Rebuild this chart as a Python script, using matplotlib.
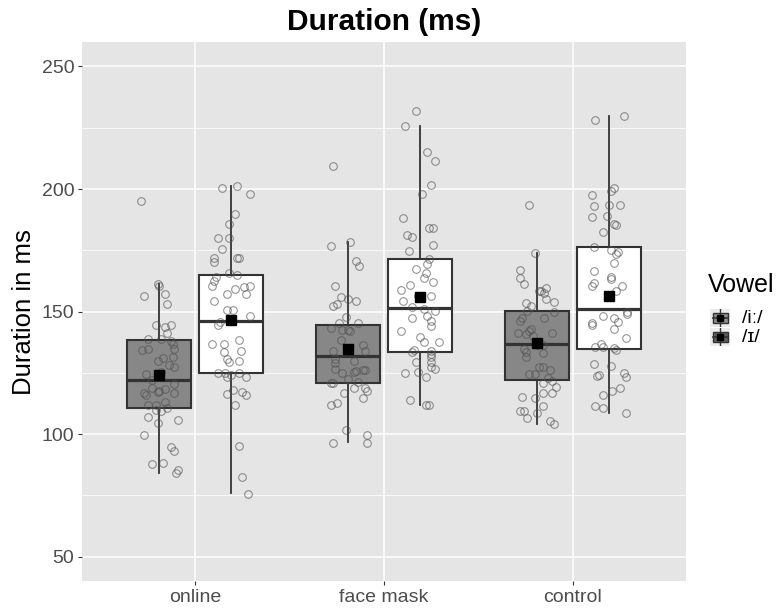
"""Boxplot of vowel duration by condition, with jittered tokens and means."""

import matplotlib
matplotlib.use("Agg")
import matplotlib.pyplot as plt
from matplotlib.patches import Rectangle
from matplotlib.lines import Line2D

plt.rcParams["font.family"] = ["Liberation Sans", "DejaVu Sans"]

conditions = ["online", "face mask", "control"]
vowels = ["/iː/", "/ɪ/"]

# box statistics per condition (left = dark box, right = white box)
dark_q1 = [110.7, 120.8, 122.2]
dark_med = [122.1, 131.8, 136.7]
dark_q3 = [138.6, 144.7, 150.1]
dark_lo = [84.0, 96.7, 104.2]
dark_hi = [161.3, 178.3, 173.8]
dark_mean = [124.3, 134.6, 137.1]

white_q1 = [125.0, 133.7, 134.6]
white_med = [146.0, 151.5, 151.1]
white_q3 = [165.0, 171.4, 176.3]
white_lo = [75.8, 112.0, 108.8]
white_hi = [201.4, 225.8, 229.6]
white_mean = [146.5, 156.1, 156.4]

# individual tokens (ms) and their jitter offsets
online_dark = [195.3, 161.3, 160.6, 156.4, 157.1, 153.1, 144.4, 143.9, 144.6, 141.2,
               138.8, 138.8, 138.2, 136.8, 134.5, 134.8, 134.9, 129.7, 130.9, 131.6,
               128.4, 127.3, 124.6, 125.2, 122.2, 120.3, 119.0, 117.8, 118.3, 117.1,
               116.7, 116.1, 116.7, 112.0, 111.9, 113.1, 110.0, 109.3, 110.6, 107.1,
               104.4, 105.9, 99.8, 94.6, 93.3, 87.7, 88.4, 85.2, 84.0]
online_dark_jit = [-0.10, -0.01, 0.00, -0.08, 0.03, 0.04, -0.02, 0.03, 0.06, 0.04,
                   0.01, -0.06, 0.06, 0.07, -0.09, -0.06, 0.08, -0.01, 0.02, 0.07,
                   0.05, 0.08, -0.07, 0.01, -0.04, 0.08, -0.04, 0.00, 0.03, -0.01,
                   -0.08, -0.07, 0.08, -0.06, -0.02, 0.03, -0.02, 0.01, 0.04, -0.06,
                   -0.01, 0.10, -0.08, 0.06, 0.08, -0.04, 0.02, 0.10, 0.09]

online_white = [200.3, 201.4, 198.0, 189.7, 185.8, 179.9, 180.2, 175.7, 171.8, 170.4,
                171.9, 171.9, 165.9, 165.0, 164.1, 162.4, 160.6, 159.4, 160.1, 160.5,
                157.1, 157.1, 154.3, 150.7, 150.7, 148.2, 144.7, 145.6, 136.8, 136.8,
                138.3, 133.6, 134.0, 130.6, 129.6, 129.7, 125.0, 125.0, 124.2, 125.0,
                123.5, 123.2, 118.0, 117.2, 116.1, 116.3, 111.8, 95.2, 82.4, 75.7]
online_white_jit = [-0.05, 0.03, 0.10, 0.02, -0.01, -0.07, -0.01, -0.05, -0.09, -0.09,
                    0.03, 0.04, -0.01, 0.03, -0.08, -0.09, -0.10, 0.02, 0.07, 0.10,
                    -0.02, 0.08, -0.09, -0.02, 0.01, 0.10, -0.07, -0.06, -0.10, -0.04,
                    0.04, -0.04, 0.05, -0.02, -0.01, 0.04, -0.07, -0.03, 0.00, 0.04,
                    0.08, -0.02, 0.01, 0.06, 0.08, -0.02, 0.02, 0.04, 0.06, 0.09]

mask_dark = [209.3, 176.8, 178.5, 170.5, 168.4, 160.3, 156.0, 153.3, 152.2, 155.3,
             154.5, 147.9, 145.2, 145.4, 143.5, 142.5, 142.3, 142.1, 138.3, 136.3,
             133.8, 134.3, 133.8, 130.7, 129.9, 129.2, 126.5, 125.1, 125.5, 125.9,
             126.2, 126.2, 122.5, 120.7, 120.7, 121.1, 118.8, 118.8, 117.7, 116.7,
             114.6, 112.0, 112.7, 101.7, 99.5, 96.5, 96.4]
mask_dark_jit = [-0.08, -0.09, 0.01, 0.04, 0.06, -0.07, -0.04, -0.06, -0.08, 0.00,
                 0.04, -0.01, -0.05, 0.05, -0.09, -0.03, 0.00, 0.01, -0.04, 0.08,
                 -0.08, 0.00, 0.09, -0.07, 0.03, -0.07, -0.07, -0.03, 0.03, 0.04,
                 0.08, 0.09, 0.00, -0.09, -0.08, 0.05, 0.03, 0.09, 0.10, -0.02,
                 0.08, -0.09, -0.06, -0.01, 0.10, -0.08, 0.10]

mask_white = [231.8, 225.9, 215.2, 211.6, 201.6, 197.8, 188.1, 184.1, 183.9, 181.3,
              180.6, 177.1, 174.6, 171.4, 169.6, 167.5, 165.6, 163.6, 160.9, 162.0,
              158.8, 156.5, 156.4, 154.5, 152.0, 151.2, 150.3, 148.4, 147.4, 146.3,
              144.0, 142.0, 139.5, 137.8, 137.8, 134.5, 133.4, 133.9, 132.7, 131.4,
              129.3, 129.3, 127.3, 126.6, 125.0, 125.2, 123.3, 113.9, 112.0, 111.9]
mask_white_jit = [-0.02, -0.08, 0.04, 0.08, 0.06, 0.01, -0.09, 0.05, 0.07, -0.07,
                  -0.04, 0.07, -0.06, 0.05, 0.04, -0.02, 0.03, 0.02, -0.05, 0.07,
                  -0.10, -0.01, 0.06, -0.09, -0.04, 0.02, 0.08, 0.04, -0.04, 0.06,
                  0.06, -0.10, 0.00, 0.02, 0.10, -0.03, -0.04, 0.06, 0.06, 0.06,
                  -0.02, 0.06, 0.06, 0.08, -0.08, -0.01, 0.03, -0.05, 0.03, 0.05]

control_dark = [193.5, 173.8, 166.9, 163.7, 161.4, 158.6, 158.3, 159.5, 157.6, 155.2,
                154.1, 153.5, 152.2, 150.4, 149.7, 147.4, 146.1, 147.4, 143.1, 142.0,
                140.9, 141.1, 141.1, 139.9, 136.5, 136.4, 134.8, 133.4, 131.4, 133.0,
                127.3, 127.3, 126.2, 124.6, 124.6, 122.9, 121.6, 120.7, 119.1, 116.7,
                116.8, 115.2, 114.8, 111.6, 109.6, 109.6, 108.8, 106.5, 105.4, 104.1]
control_dark_jit = [-0.04, -0.01, -0.09, -0.09, -0.07, 0.01, 0.02, 0.05, 0.04, 0.05,
                    0.09, -0.06, -0.03, -0.05, 0.09, -0.08, -0.09, 0.04, -0.03, -0.04,
                    -0.06, -0.10, 0.08, -0.02, 0.00, 0.03, -0.07, -0.06, -0.06, 0.03,
                    0.01, 0.03, 0.07, -0.04, -0.01, 0.06, 0.08, 0.03, 0.10, 0.08,
                    0.03, -0.08, -0.01, 0.03, -0.09, -0.07, 0.00, -0.05, 0.07, 0.09]

control_white = [228.2, 229.7, 200.5, 199.4, 197.5, 193.0, 193.4, 193.5, 188.4, 188.9,
                 185.9, 185.4, 182.4, 176.5, 175.3, 174.4, 173.7, 169.9, 166.5, 164.0,
                 163.3, 161.6, 160.3, 160.5, 158.6, 149.9, 149.0, 148.2, 147.5, 145.8,
                 145.5, 144.4, 142.8, 139.2, 136.8, 135.7, 135.6, 135.3, 134.5, 128.8,
                 127.8, 124.8, 123.7, 124.0, 123.2, 117.8, 118.7, 115.8, 111.5, 110.8,
                 108.5]
control_white_jit = [-0.07, 0.08, 0.03, 0.01, -0.09, -0.08, 0.00, 0.06, -0.09, -0.01,
                     0.03, 0.04, -0.03, -0.08, 0.01, 0.05, 0.04, 0.03, -0.08, 0.01,
                     0.01, -0.08, -0.09, 0.07, 0.04, 0.10, 0.10, -0.03, 0.03, 0.05,
                     -0.09, -0.09, 0.03, 0.09, -0.04, -0.07, -0.03, 0.03, 0.04, -0.08,
                     0.01, 0.08, -0.06, -0.05, 0.09, 0.02, 0.06, -0.03, -0.07, -0.03,
                     0.09]

DARK = "#878787"
EDGE = "#333333"
PANEL = "#e5e5e5"
TXT = "#4d4d4d"
DODGE = 0.19
BOXW = 0.34


def box_stats(lo, q1, med, q3, hi):
    return [dict(whislo=a, q1=b, med=c, q3=d, whishi=e)
            for a, b, c, d, e in zip(lo, q1, med, q3, hi)]


def main():
    fig = plt.figure(figsize=(7.84, 6.08), dpi=100)
    ax = fig.add_axes([0.1046, 0.044, 0.7704, 0.887])
    ax.set_facecolor(PANEL)

    for v in range(50, 251, 50):
        ax.axhline(v, color="white", lw=1.1, zorder=0)
    for v in range(75, 251, 50):
        ax.axhline(v, color="white", lw=0.55, zorder=0)
    for x in (1, 2, 3):
        ax.axvline(x, color="white", lw=1.1, zorder=0)

    xs = [1, 2, 3]
    left = [x - DODGE for x in xs]
    right = [x + DODGE for x in xs]

    common = dict(widths=BOXW, patch_artist=True, showcaps=False, showfliers=False,
                  whiskerprops=dict(color=EDGE, lw=1.3),
                  medianprops=dict(color=EDGE, lw=2.3))
    ax.bxp(box_stats(dark_lo, dark_q1, dark_med, dark_q3, dark_hi), positions=left,
           boxprops=dict(facecolor=DARK, edgecolor=EDGE, lw=1.5), **common)
    ax.bxp(box_stats(white_lo, white_q1, white_med, white_q3, white_hi), positions=right,
           boxprops=dict(facecolor="white", edgecolor=EDGE, lw=1.5), **common)

    groups = [
        (left[0], online_dark, online_dark_jit),
        (right[0], online_white, online_white_jit),
        (left[1], mask_dark, mask_dark_jit),
        (right[1], mask_white, mask_white_jit),
        (left[2], control_dark, control_dark_jit),
        (right[2], control_white, control_white_jit),
    ]
    for x0, vals, jit in groups:
        ax.plot([x0 + j for j in jit], vals, "o", ms=5.5, mfc="none", mec="#505050",
                mew=0.8, alpha=0.6, zorder=4)

    ax.plot(left, dark_mean, "s", ms=6.5, color="black", zorder=5)
    ax.plot(right, white_mean, "s", ms=6.5, color="black", zorder=5)

    ax.set_xlim(0.4, 3.6)
    ax.set_ylim(40, 260)
    ax.set_xticks(xs, conditions)
    ax.set_yticks(range(50, 251, 50))
    ax.tick_params(colors="#333333", labelcolor=TXT, labelsize=14, length=3, pad=2.5)
    for s in ax.spines.values():
        s.set_visible(False)
    ax.set_ylabel("Duration in ms", fontsize=18.5, color="black", labelpad=4)
    fig.text(0.49, 0.964, "Duration (ms)", ha="center", va="center",
             fontsize=21.5, fontweight="bold")

    # legend drawn by hand (ggplot style keys)
    fig.text(0.903, 0.531, "Vowel", fontsize=18, va="center", ha="left")
    key_fills = ["#8f8f8f", "#5e5e5e"]
    for k, (lab, fc) in enumerate(zip(vowels, key_fills)):
        kax = fig.add_axes([0.906, 0.462 - k * 0.031, 0.0255, 0.030])
        kax.set_xlim(0, 1)
        kax.set_ylim(0, 1)
        kax.axis("off")
        kax.add_patch(Rectangle((0, 0), 1, 1, color="#ebebeb"))
        kax.add_line(Line2D([0.5, 0.5], [0.02, 0.98], color=EDGE, lw=1.0))
        kax.add_patch(Rectangle((0.12, 0.22), 0.76, 0.56, facecolor=fc,
                                edgecolor=EDGE, lw=1.0))
        kax.add_line(Line2D([0.12, 0.88], [0.5, 0.5], color=EDGE, lw=1.2))
        kax.plot([0.5], [0.5], "s", ms=4, color="black")
        fig.text(0.946, 0.476 - k * 0.031, lab, fontsize=14, va="center", ha="left",
                 color="black")

    fig.savefig("out.png", dpi=100)
    plt.close(fig)


if __name__ == "__main__":
    main()
